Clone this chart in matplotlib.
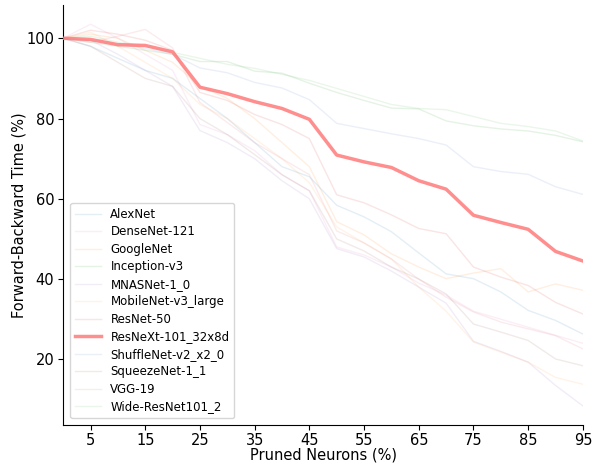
import matplotlib
matplotlib.use("Agg")
import matplotlib.pyplot as plt
import numpy as np

pruned = [0, 5, 10, 15, 20, 25, 30, 35, 40, 45, 50, 55, 60, 65, 70, 75, 80, 85, 90, 95]

models = ["AlexNet", "DenseNet-121", "GoogleNet", "Inception-v3", "MNASNet-1_0",
          "MobileNet-v3_large", "ResNet-50", "ResNeXt-101_32x8d", "ShuffleNet-v2_x2_0",
          "SqueezeNet-1_1", "VGG-19", "Wide-ResNet101_2"]

times = {
    "AlexNet":            [100, 98, 95, 92, 90, 85, 80, 74, 68, 65.5, 58.4, 55.5, 51.8, 46.5, 41.3, 40.1, 36.8, 32.2, 29.7, 26.3],
    "DenseNet-121":       [100, 103.5, 100, 96, 92, 78.5, 76, 72, 66, 62, 48, 46, 43, 39, 36, 32, 30, 28, 26, 24],
    "GoogleNet":          [100, 101, 100, 97, 94, 88, 85, 80, 74, 68, 54.3, 51, 46.3, 43, 40.1, 41.5, 42.6, 36.8, 38.8, 37.2],
    "Inception-v3":       [100, 99, 98, 97, 96, 94.2, 94.2, 91.8, 91.3, 88.8, 86.5, 84.5, 82.6, 82.4, 79.4, 78.2, 77.4, 76.9, 75.8, 74.2],
    "MNASNet-1_0":        [100, 99.5, 96, 92, 88, 77, 74, 70, 64.5, 60, 47.6, 45.5, 42, 38, 34, 24.5, 22, 19.3, 13.5, 8.4],
    "MobileNet-v3_large": [100, 101.5, 98, 94, 90, 83.5, 80, 75, 70, 64, 53, 49, 45, 38, 32, 24.3, 21.8, 19.3, 15.5, 13.8],
    "ResNet-50":          [100, 102, 101, 99.5, 97, 86.5, 84.5, 81, 78.5, 75, 61, 59, 56, 52.6, 51.3, 43, 40.5, 38.4, 34.2, 31.3],
    "ResNeXt-101_32x8d":  [100, 99.7, 98.4, 98.2, 96.6, 87.8, 86.2, 84.2, 82.5, 79.8, 70.9, 69.2, 67.8, 64.5, 62.4, 55.9, 54.1, 52.4, 46.9, 44.5],
    "ShuffleNet-v2_x2_0": [100, 99.5, 98.5, 97.5, 96, 92.6, 91.4, 89, 87.6, 84.7, 78.8, 77.5, 76.2, 75, 73.4, 68, 66.8, 66.1, 63, 61.1],
    "SqueezeNet-1_1":     [100, 98, 94, 90, 88, 80, 76, 71, 66, 62, 50, 47, 43, 40, 36.3, 28.8, 26.8, 24.7, 20.1, 18.4],
    "VGG-19":             [100, 99, 100.5, 102.2, 97.6, 84, 79, 74, 70, 66, 52, 49, 45, 40, 35.5, 31.8, 29.3, 27.6, 25.9, 22.6],
    "Wide-ResNet101_2":   [100, 100.5, 99, 98, 96.5, 95, 93.5, 92.5, 91, 89.5, 87.5, 85.5, 83.5, 82.5, 82.2, 80.5, 78.8, 78, 76.9, 74.4],
}

colors = {
    "AlexNet": "#1f77b4", "DenseNet-121": "#e377c2", "GoogleNet": "#ff7f0e",
    "Inception-v3": "#2ca02c", "MNASNet-1_0": "#9467bd", "MobileNet-v3_large": "#ff9f40",
    "ResNet-50": "#d62728", "ResNeXt-101_32x8d": "#ff7b7b", "ShuffleNet-v2_x2_0": "#5a7dc8",
    "SqueezeNet-1_1": "#8c564b", "VGG-19": "#e06070", "Wide-ResNet101_2": "#5cb85c",
}
highlight = "ResNeXt-101_32x8d"

fig = plt.figure(figsize=(5.96, 4.65), dpi=100)
ax = fig.add_axes([0.106, 0.086, 0.872, 0.903])

for m in models:
    if m == highlight:
        ax.plot(pruned, times[m], color=colors[m], lw=2.5, alpha=0.85, label=m, zorder=3)
    else:
        ax.plot(pruned, times[m], color=colors[m], lw=1, alpha=0.12, label=m)

ax.set_xlim(0, 95)
ax.set_xticks(np.arange(5, 100, 10))
ax.set_yticks([20, 40, 60, 80, 100])
ax.tick_params(labelsize=10.5, pad=3)
ax.tick_params(axis="x", pad=2)
ax.set_xlabel("Pruned Neurons (%)", fontsize=10.5, labelpad=0)
ax.set_ylabel("Forward-Backward Time (%)", fontsize=10.5, labelpad=0)
ax.spines["top"].set_visible(False)
ax.spines["right"].set_visible(False)
ax.legend(loc="lower left", fontsize=8.5, handlelength=2.2, borderaxespad=0.6,
          labelspacing=0.38)

fig.savefig("out.png", dpi=100)
